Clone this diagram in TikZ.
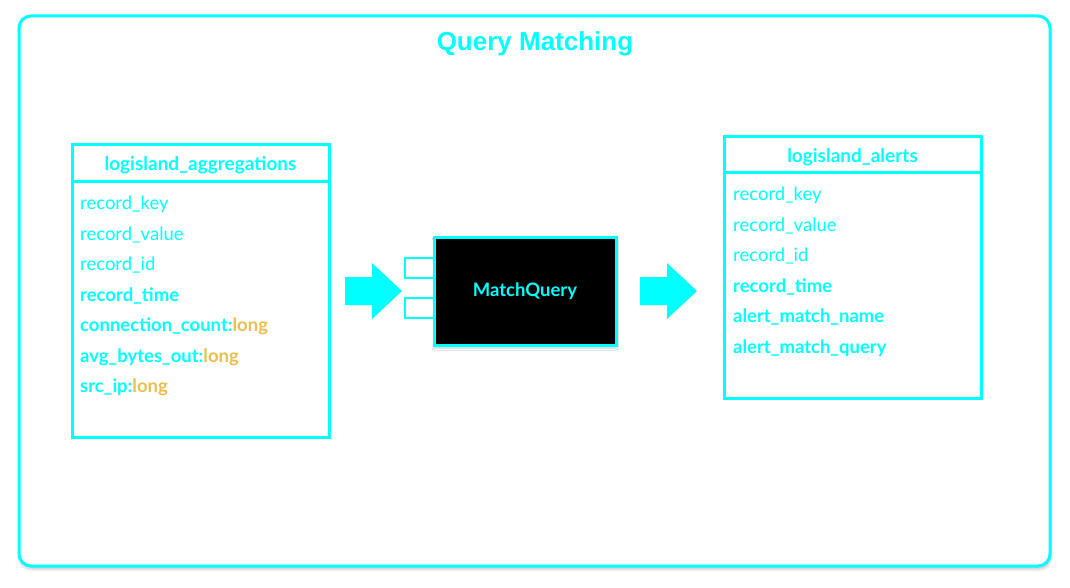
\documentclass[tikz,border=0pt]{standalone}
\usepackage{fontspec}
\setmainfont{Lato}
\newfontfamily\titlefont{Liberation Sans}
\usetikzlibrary{calc}
\usetikzlibrary{positioning}
\usetikzlibrary{shadows.blur}
\definecolor{aqua}{HTML}{00FFFF}
\definecolor{typeorange}{HTML}{E9C04F}
\tikzset{
  tablehead/.style={draw=aqua, line width=3pt, minimum width=257pt, inner sep=0pt, outer sep=0pt, anchor=north west},
  tablename/.style={text=aqua, yshift=-2pt, font=\fontsize{19}{21}\selectfont\bfseries},
  tablebody/.style={draw=aqua, line width=3pt, minimum width=257pt, inner sep=0pt, outer sep=0pt, anchor=north west},
  field/.style={anchor=base west, inner sep=0pt, text=aqua, font=\fontsize{18.5}{21}\selectfont},
  keyfield/.style={field, font=\fontsize{18.5}{21}\selectfont\bfseries},
  port/.style={draw=aqua, fill=white, line width=2pt, minimum width=29pt, minimum height=20pt, inner sep=0pt, outer sep=0pt, anchor=east},
  blockarrow/.style={fill=aqua}
}
\newcommand{\ftype}[1]{\textcolor{typeorange}{#1}}

\begin{document}
\begin{tikzpicture}[x=1pt,y=-1pt]
\useasboundingbox (0,0) rectangle (1070,588);

% frame and title
\draw[aqua, line width=3pt, rounded corners=12pt, fill=white,
  blur shadow={shadow xshift=1pt, shadow yshift=-3pt, shadow blur radius=3pt, shadow opacity=25}]
  (19,16) rectangle (1050,566);
\node[text=aqua, font=\titlefont\fontsize{26}{28}\selectfont\bfseries] (title) at (535,44) {Query Matching};

% input table
\node[tablehead, minimum height=37pt] (aggHead) at (72,145) {};
\node[tablename] (aggName) at (aggHead.center) {logisland\_aggregations};
\node[tablebody, minimum height=255pt] (aggBody) at (aggHead.south west) {};
\node[field] (agg1) at (80,209.5) {record\_key};
\node[field] (agg2) at (80,240) {record\_value};
\node[field] (agg3) at (80,270.5) {record\_id};
\node[keyfield] (agg4) at (80,301) {record\_time};
\node[keyfield] (agg5) at (80,331.5) {connection\_count:\ftype{long}};
\node[keyfield] (agg6) at (80,362) {avg\_bytes\_out:\ftype{long}};
\node[keyfield] (agg7) at (80,392.5) {src\_ip:\ftype{long}};

% processor
\node[draw=aqua, fill=black, line width=3pt, minimum width=182pt, minimum height=108pt, inner sep=0pt, outer sep=0pt,
  text=aqua, font=\fontsize{18.5}{21}\selectfont\bfseries,
  blur shadow={shadow xshift=0pt, shadow yshift=-3pt, shadow blur radius=2pt, shadow opacity=20}]
  (matchQuery) at (525,291) {MatchQuery};
\node[port, yshift=23pt] (portA) at (matchQuery.west) {};
\node[port, yshift=-17pt] (portB) at (matchQuery.west) {};

% arrows
\coordinate (inTip) at (402,291);
\coordinate (outTip) at (697,291);
\foreach \t in {inTip,outTip}
  \fill[blockarrow] (\t) -- ($(\t)+(-30,-28)$) -- ($(\t)+(-30,-14)$) -- ($(\t)+(-57,-14)$)
    -- ($(\t)+(-57,14)$) -- ($(\t)+(-30,14)$) -- ($(\t)+(-30,28)$) -- cycle;

% output table
\node[tablehead, minimum height=36pt] (alertHead) at (724,137) {};
\node[tablename] (alertName) at (alertHead.center) {logisland\_alerts};
\node[tablebody, minimum height=225pt] (alertBody) at (alertHead.south west) {};
\node[field] (alert1) at (733,200.5) {record\_key};
\node[field] (alert2) at (733,231) {record\_value};
\node[field] (alert3) at (733,261.5) {record\_id};
\node[keyfield] (alert4) at (733,292) {record\_time};
\node[keyfield] (alert5) at (733,322.5) {alert\_match\_name};
\node[keyfield] (alert6) at (733,353) {alert\_match\_query};
\end{tikzpicture}
\end{document}
